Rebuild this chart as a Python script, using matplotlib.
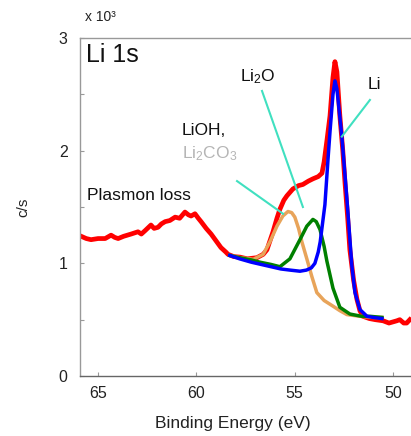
import matplotlib
matplotlib.use('Agg')
import matplotlib.pyplot as plt
from matplotlib.ticker import MultipleLocator

plt.rcParams['font.family'] = ['Liberation Sans', 'DejaVu Sans']
plt.rcParams['mathtext.fontset'] = 'custom'
plt.rcParams['mathtext.rm'] = 'Liberation Sans'
plt.rcParams['mathtext.it'] = 'Liberation Sans:italic'

# measured spectrum (binding energy in eV, counts in 10^3 c/s)
meas_be = [65.86, 65.6, 65.36, 65.0, 64.64, 64.34, 64.15, 63.98, 63.7, 63.32,
           62.97, 62.8, 62.61, 62.31, 62.15, 61.95, 61.78, 61.59, 61.35, 61.08,
           60.85, 60.58, 60.4, 60.27, 60.07, 59.9, 59.76, 59.5, 59.25, 59.0,
           58.75, 58.5, 58.39, 58.1, 57.78, 57.4, 56.92, 56.6, 56.41, 56.1,
           55.9, 55.75, 55.55, 55.39, 55.09, 54.8, 54.58, 54.3, 54.07, 53.8,
           53.61, 53.5, 53.35, 53.2, 53.05, 52.95, 52.85, 52.7, 52.55, 52.44,
           52.3, 52.19, 52.0, 51.83, 51.68, 51.53, 51.2, 50.9, 50.5, 50.2,
           50.0, 49.8, 49.65, 49.45, 49.3, 49.14]
meas_cps = [1.24, 1.22, 1.21, 1.22, 1.22, 1.25, 1.23, 1.22, 1.24, 1.26,
            1.28, 1.26, 1.29, 1.34, 1.31, 1.32, 1.35, 1.37, 1.38, 1.41,
            1.40, 1.455, 1.43, 1.42, 1.44, 1.40, 1.37, 1.31, 1.26, 1.20,
            1.14, 1.10, 1.08, 1.06, 1.055, 1.04, 1.05, 1.08, 1.12, 1.28,
            1.40, 1.48, 1.56, 1.60, 1.66, 1.69, 1.70, 1.73, 1.75, 1.77,
            1.80, 1.90, 2.10, 2.31, 2.65, 2.79, 2.70, 2.31, 2.00, 1.72,
            1.40, 1.12, 0.85, 0.68, 0.58, 0.53, 0.51, 0.50, 0.49, 0.47,
            0.48, 0.49, 0.50, 0.47, 0.47, 0.50]

# fitted components
li_be = [58.3, 57.8, 57.2, 56.7, 56.2, 55.7, 55.24, 54.73, 54.4, 54.15,
         53.97, 53.8, 53.7, 53.46, 53.3, 53.2, 53.05, 52.95, 52.85, 52.6,
         52.34, 52.09, 51.93, 51.68, 51.32, 51.0, 50.56]
li_cps = [1.07, 1.04, 1.01, 0.99, 0.97, 0.95, 0.94, 0.93, 0.94, 0.96,
          1.00, 1.10, 1.19, 1.52, 1.93, 2.17, 2.50, 2.62, 2.55, 2.13,
          1.57, 0.98, 0.74, 0.59, 0.53, 0.52, 0.51]

li2o_be = [58.3, 57.8, 57.2, 56.76, 56.2, 55.75, 55.24, 54.73, 54.38, 54.07,
           53.9, 53.71, 53.5, 53.36, 53.05, 52.7, 52.19, 51.6, 51.17, 50.56]
li2o_cps = [1.07, 1.05, 1.03, 1.01, 0.99, 0.97, 1.04, 1.21, 1.33, 1.39,
            1.37, 1.30, 1.15, 1.02, 0.78, 0.61, 0.55, 0.53, 0.53, 0.52]

lioh_be = [58.3, 57.78, 57.1, 56.6, 56.26, 55.9, 55.6, 55.34, 55.15, 54.99,
           54.8, 54.63, 54.38, 54.12, 53.87, 53.5, 53.05, 52.7, 52.34, 51.68,
           51.0, 50.56]
lioh_cps = [1.07, 1.05, 1.036, 1.08, 1.19, 1.33, 1.42, 1.46, 1.45, 1.41,
            1.31, 1.19, 1.04, 0.88, 0.74, 0.67, 0.62, 0.58, 0.545, 0.53,
            0.52, 0.52]

fig = plt.figure(figsize=(4.11, 4.36), dpi=100)
ax = fig.add_axes([80 / 411, 1 - 376 / 436, 1 - 80 / 411, (376 - 38) / 436])

ax.plot(meas_be, meas_cps, color='#ff0000', lw=3.4, zorder=2)
ax.plot(lioh_be, lioh_cps, color='#e8a45a', lw=2.5, zorder=3)
ax.plot(li2o_be, li2o_cps, color='#008000', lw=2.5, zorder=4)
ax.plot(li_be, li_cps, color='#0000ff', lw=2.5, zorder=5)

ax.set_xlim(65.92, 49.08)
ax.set_ylim(0, 3)
ax.set_xticks([65, 60, 55, 50])
ax.set_yticks([0, 1, 2, 3])
ax.yaxis.set_minor_locator(MultipleLocator(0.5))
ax.tick_params(direction='in', length=3, width=0.8, colors='#999999',
               labelcolor='#222222', labelsize=11.5)
ax.tick_params(axis='y', which='minor', direction='in', length=3, width=0.8, colors='#999999')
ax.tick_params(axis='x', pad=7)
ax.tick_params(axis='y', pad=9)
for side in ['left', 'bottom', 'top']:
    ax.spines[side].set_color('#999999')
    ax.spines[side].set_linewidth(1.0)
ax.spines['bottom'].set_color('#666666')
ax.spines['right'].set_visible(False)

fig.text(233 / 411, 1 - 423 / 436, 'Binding Energy (eV)', ha='center', va='center',
         fontsize=12.5, color='#222222')
fig.text(23 / 411, 1 - 207 / 436, 'c/s', rotation=90, ha='center', va='center',
         fontsize=11, color='#222222')
fig.text(85 / 411, 1 - 17 / 436, 'x 10³', ha='left', va='center', fontsize=10, color='#222222')

ax.text(65.6, 2.85, 'Li 1s', fontsize=18, ha='left', va='center', color='#111111')
ax.text(65.55, 1.60, 'Plasmon loss', fontsize=12.5, ha='left', va='center', color='#111111')
ax.text(60.75, 2.18, 'LiOH,', fontsize=12.5, ha='left', va='center', color='#111111')
ax.text(60.75, 1.97, r'Li$_\mathrm{2}$CO$_\mathrm{3}$', fontsize=12.5, ha='left',
        va='center', color='#b5b5b5')
ax.text(57.8, 2.66, r'Li$_\mathrm{2}$O', fontsize=12.5, ha='left', va='center', color='#111111')
ax.text(51.3, 2.59, 'Li', fontsize=12.5, ha='left', va='center', color='#111111')

# pointer lines
ax.plot([56.66, 54.58], [2.53, 1.50], color='#40e0c0', lw=1.5, zorder=6)
ax.plot([57.93, 55.59], [1.73, 1.44], color='#40e0c0', lw=1.5, zorder=6)
ax.plot([51.17, 52.60], [2.45, 2.125], color='#40e0c0', lw=1.5, zorder=6)

fig.savefig('out.png', dpi=100)
